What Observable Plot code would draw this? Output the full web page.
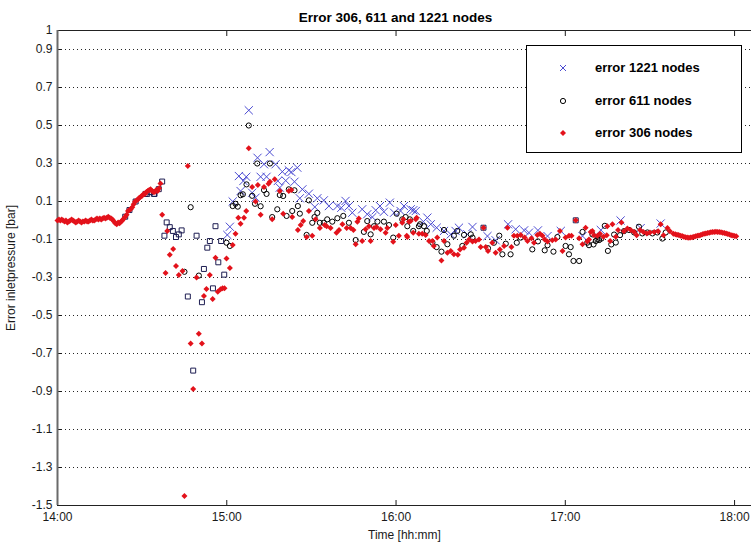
<!DOCTYPE html>
<html><head><meta charset="utf-8">
<script src="https://cdn.jsdelivr.net/npm/d3@7"></script>
<script src="https://cdn.jsdelivr.net/npm/@observablehq/plot@0.6"></script>
<style>
body{margin:0;background:#fff;}
#wrap{position:relative;width:751px;height:543px;font-family:"Liberation Sans",Arial,sans-serif;overflow:hidden;}
#legend{position:absolute;left:526px;top:45px;width:214px;height:106px;border:1px solid #000;background:#fff;}
.row{position:absolute;left:0;height:16px;width:214px;}
.row svg{position:absolute;left:30px;top:2px;}
.row span{position:absolute;left:68px;top:0;font-weight:bold;font-size:13px;line-height:16px;color:#000;white-space:nowrap;}
</style></head><body><div id="wrap"><div id="chart"></div><div id="legend"></div></div>
<script>
// ---- text ----
const title = "Error 306, 611 and 1221 nodes";
const yLabel = "Error inletpressure [bar]";
const xLabel = "Time [hh:mm]";
const legendLabels = ["error 1221 nodes", "error 611 nodes", "error 306 nodes"];
// ---- ticks (minutes after 14:00) ----
const xTicks = [0, 60, 120, 180, 240];
const xTickLabels = ["14:00", "15:00", "16:00", "17:00", "18:00"];
const yTicks = [-1.5, -1.3, -1.1, -0.9, -0.7, -0.5, -0.3, -0.1, 0.1, 0.3, 0.5, 0.7, 0.9, 1];
const gridTicks = [-1.3, -1.1, -0.9, -0.7, -0.5, -0.3, -0.1, 0.1, 0.3, 0.5, 0.7, 0.9];
const xDomain = [0, 246];
const yDomain = [-1.5, 1];

// ---- data: [minutes after 14:00, error bar] ----
// common start, where all runs coincide
const earlyShared = [
[0,0.0],[0.5,0.005],[1,0.0],[1.5,0.005],[2,0.0],[2.5,-0.005],[3,0.0],[3.5,-0.01],[4,-0.005],[4.5,0.0],
[5,0.005],[5.5,0.0],[6,-0.005],[6.5,-0.01],[7,-0.005],[7.5,0.0],[8,-0.005],[8.5,-0.01],[9,-0.005],[9.5,-0.005],
[10,0.0],[10.5,-0.005],[11,-0.005],[11.5,0.0],[12,0.005],[12.5,0.0],[13,0.0],[13.5,0.005],[14,0.01],[14.5,0.005],
[15,0.01],[15.5,0.005],[16,0.01],[16.5,0.015],[17,0.01],[17.5,0.015],[18,0.02],[18.5,0.015],[19,0.01],[19.5,0.005],
[20,-0.005],[20.5,-0.015],[21,-0.02],[21.5,-0.01],[22,-0.015],[22.5,-0.005],[23,0.0],[23.5,0.01],[24,0.02],[24.5,0.03],
[25,0.05],[25.5,0.055],[26,0.06],[26.5,0.07],[27,0.085],[27.5,0.1],[28,0.105],[28.5,0.11],[29,0.12],[29.5,0.125],
[30,0.13],[30.5,0.14],[31,0.14],[31.5,0.15],[32,0.155],[32.5,0.16],[33,0.165],[33.5,0.155],[34,0.15],[34.5,0.15],
[35,0.16],[35.5,0.155],[36,0.17],[36.5,0.195]
];
// common end
const tailShared = [
[219,-0.072],[219.6,-0.075],[220.2,-0.076],[220.8,-0.08],[221.4,-0.082],[222,-0.085],[222.6,-0.088],[223.2,-0.09],
[223.8,-0.091],[224.4,-0.09],[225,-0.088],[225.6,-0.085],[226.2,-0.083],[226.8,-0.08],[227.4,-0.079],[228,-0.076],
[228.6,-0.073],[229.2,-0.07],[229.8,-0.068],[230.4,-0.066],[231,-0.064],[231.6,-0.062],[232.2,-0.06],[232.8,-0.06],
[233.4,-0.059],[234,-0.06],[234.6,-0.061],[235.2,-0.062],[235.8,-0.064],[236.4,-0.066],[237,-0.068],[237.6,-0.071],
[238.2,-0.074],[238.8,-0.077],[239.4,-0.079],[240,-0.081],[240.6,-0.083]
];
const red306 = [
[37.1,0.03],[38.3,-0.276],[38.9,-0.055],[39.8,-0.18],[41,-0.15],[42,-0.24],[43,-0.287],[44.3,-0.266],[45,-1.45],
[46.2,0.287],[47.2,-0.648],[48.1,-0.887],[49.3,-0.30],[50.1,-0.596],[51.2,-0.648],[51.9,-0.397],[52.8,-0.36],[54,-0.287],
[55,-0.413],[56,-0.196],[56.8,-0.375],[57.8,-0.362],[58.5,-0.357],[59.2,-0.357],[59.9,-0.2],[61.1,-0.25],[62.1,-0.129],
[63.1,-0.07],[64.1,0.015],[64.9,-0.017],[66.1,0.015],[66.9,0.05],[67.8,0.38],[69,0.176],[70.2,0.1],[71,0.187],[72,0.03],
[73.2,0.176],[74.8,0.194],[75.3,0.204],[76.1,0.006],[77,0.217],[78.8,0.155],[80,0.036],[82,0.155],[82.9,0.16],[83.2,0.018],
[85.2,-0.05],[86.2,-0.024],[87.1,-0.003],[88.3,-0.087],[89.1,0.05],[90.3,-0.08],[91.5,0.006],[93,-0.04],[94.7,-0.024],
[95.4,-0.03],[96.8,-0.04],[98.9,-0.064],[99.8,-0.05],[101,-0.02],[102.5,-0.04],[103.9,-0.04],[104.9,-0.05],[105.7,-0.125],
[106.3,-0.006],[106.8,0.01],[108,-0.108],[109.2,-0.046],[110.4,-0.03],[111,-0.108],[112.2,-0.04],[113.1,-0.034],[114.5,-0.046],
[116.3,-0.064],[116.9,-0.04],[119,-0.112],[119.9,-0.024],[121,-0.08],[122.2,-0.012],[122.6,0.006],[123.8,-0.08],[124,-0.087],
[124.6,-0.006],[125.2,-0.003],[126.1,-0.064],[127,0.006],[127.3,0.015],[128.1,-0.07],[129.3,-0.07],[130.5,-0.076],[131.7,-0.108],
[132.9,-0.108],[133.4,-0.134],[134.6,-0.09],[136.1,-0.21],[137,-0.108],[138.2,-0.17],[139.4,-0.16],[140.5,-0.178],[141.9,-0.18],
[142.7,-0.152],[144.1,-0.143],[145,-0.117],[145.9,-0.1],[147.1,-0.11],[148.2,-0.108],[149.4,-0.1],[150,-0.14],[151,-0.038],
[151.8,-0.14],[152.6,-0.16],[154.1,-0.117],[155.3,-0.17],[156.8,-0.152],[158.3,-0.134],[159.5,-0.038],[160.9,-0.14],[161.8,-0.08],
[163,-0.08],[164.2,-0.076],[165.6,-0.09],[166.6,-0.108],[168,-0.094],[168.9,-0.117],[170.1,-0.076],[171,-0.07],[171.9,-0.08],
[172.7,-0.1],[173.7,-0.11],[175.4,-0.104],[176.6,-0.1],[178.1,-0.055],[179,-0.16],[180.1,-0.09],[181.3,-0.08],[182.2,-0.08],
[183.7,0.001],[184.9,-0.094],[186.1,-0.125],[187.2,-0.038],[187.8,-0.11],[188.4,-0.1],[189,-0.06],[189.6,-0.055],[190.2,-0.077],
[191.4,-0.08],[192.3,-0.07],[193.5,-0.086],[194.7,-0.077],[194.9,-0.03],[195.9,-0.108],[196.7,-0.02],[197.9,-0.086],[198.7,-0.05],
[199.9,-0.01],[200.8,-0.056],[202,-0.042],[203.2,-0.05],[204.4,-0.06],[205.3,-0.077],[206.5,-0.05],[207.7,-0.06],[208.9,-0.068],
[210,-0.063],[211.5,-0.06],[212.9,-0.056],[213.8,-0.02],[214.8,-0.077],[216.2,-0.04],[217.1,-0.056],[218.3,-0.07]
];
const black611 = [
[45,-0.27],[47.2,0.07],[50.1,-0.29],[59.9,-0.117],[61.1,-0.134],[62.1,0.076],[63.1,0.088],[63.9,0.073],[64.9,0.133],
[65.7,0.138],[67,0.19],[67.8,0.50],[69,0.13],[70,0.088],[70.8,0.30],[72,0.075],[73.2,0.16],[74.1,0.14],[75.3,0.30],
[76.1,0.018],[77.9,0.059],[78.8,0.134],[80,0.129],[81.2,0.024],[82,0.164],[83.2,0.05],[84,0.159],[85.2,0.076],[85.9,0.036],
[88.3,-0.076],[89.1,0.106],[90.3,-0.012],[91.1,0.018],[92.1,0.04],[93,-0.012],[94.4,-0.012],[95.6,0.006],[97.4,-0.006],
[99.2,0.012],[101.3,0.024],[103.3,-0.012],[105.7,-0.103],[108.6,-0.06],[109.8,-0.003],[111,-0.073],[112.2,-0.03],[113.4,-0.006],
[115.7,-0.006],[117.5,-0.024],[119,-0.09],[120.2,0.036],[122.2,0.006],[123.4,0.018],[124,-0.03],[124.9,0.006],[126.1,-0.055],
[128.1,-0.03],[128.5,-0.02],[129.9,-0.03],[130.9,-0.055],[132.9,-0.117],[134.4,-0.14],[136.1,-0.164],[137,-0.05],[138.2,-0.125],
[140.5,-0.08],[141.7,-0.055],[143.5,-0.134],[144.1,-0.076],[146.5,-0.073],[147.1,-0.09],[152.6,-0.146],[154.7,-0.117],
[156.6,-0.08],[157.7,-0.178],[158.9,-0.122],[160.6,-0.178],[162.8,-0.117],[164.2,-0.09],[168.3,-0.152],[170.3,-0.11],
[172.7,-0.157],[173.7,-0.13],[175.8,-0.164],[177.2,-0.087],[180.1,-0.134],[181.3,-0.178],[181.9,-0.14],[182.9,-0.213],
[184.9,-0.213],[186.1,-0.06],[187.8,-0.117],[188.4,-0.13],[189.6,-0.073],[190,-0.126],[190.8,-0.108],[191.4,-0.1],[192,-0.103],
[192.8,-0.095],[194,-0.028],[195.1,-0.16],[196.3,-0.126],[197.3,-0.074],[197.9,-0.116],[199.4,-0.077],[200.8,-0.056],
[202.6,-0.05],[204.4,-0.063],[206.1,-0.033],[207.3,-0.068],[209.1,-0.063],[210.9,-0.068],[212.6,-0.063],[214.4,-0.095],[215.6,-0.063]
];
const blue1221 = [
[60.2,-0.076],[61.1,-0.033],[62.1,0.1],[64.3,0.234],[64.9,0.155],[65.9,0.208],[66.9,0.23],[67.8,0.58],[69,0.146],[70.2,0.12],
[70.9,0.33],[72,0.23],[73.2,0.296],[74.1,0.23],[75.2,0.36],[77.3,0.296],[78.1,0.208],[78.8,0.173],[79.7,0.257],[80.9,0.21],
[82,0.264],[82.9,0.255],[84,0.204],[85,0.278],[85.9,0.117],[86.8,0.164],[89.1,0.141],[91.2,0.071],[92.1,0.117],[94.4,0.106],
[96.2,0.076],[99.2,0.076],[100.6,0.067],[102.1,0.103],[103.3,0.076],[104.5,0.041],[108,0.059],[109.8,0.033],[111.6,0.018],
[112.8,0.054],[114.3,0.076],[115.7,0.046],[117.8,0.094],[119.3,0.041],[121.6,0.05],[122.8,0.076],[125.2,0.059],[126.1,0.054],
[127,0.05],[129.7,-0.006],[131.1,0.015],[132.3,-0.02],[134.4,-0.038],[137,-0.055],[139.4,-0.073],[141.1,-0.055],[142.3,-0.038],
[145.3,-0.073],[147.1,-0.034],[152.4,-0.082],[155.3,-0.104],[159.7,-0.02],[162.4,-0.046],[165.4,-0.052],[167.1,-0.064],
[170.3,-0.052],[173.7,-0.082],[178.4,-0.055],[186.1,-0.082],[192.6,-0.05],[199.6,0.0],[206.7,-0.04],[213.8,-0.016]
];
// dark square markers (unlabelled in the legend)
const squareMarks = [
[24,0.02],[25.5,0.055],[27.7,0.1],[31.2,0.14],[31.8,0.14],[33,0.15],[34.2,0.14],[34.4,0.14],[35.9,0.165],[37.1,0.205],
[37.9,-0.08],[38.7,-0.01],[39.8,-0.035],[40.9,-0.055],[42,-0.087],[43,-0.073],[44,-0.052],[46.2,-0.40],[48.1,-0.79],
[49.3,-0.08],[51.2,-0.43],[51.9,-0.255],[53.1,-0.143],[54,-0.108],[55.1,-0.357],[56,-0.03],[57,-0.22],[58,-0.108],
[59.1,-0.285],[151,-0.038],[183.7,0.001]
];

// ---- colours ----
const cBlue = "#4b4bd2", cBlack = "#000000", cRed = "#e3121b", cSquare = "#1d1d52";

const toRows = arr => arr.map(([t, v]) => ({t, v}));
const redRows = toRows(earlyShared.concat(red306, tailShared));
const blackRows = toRows(black611);
const blueRows = toRows(blue1221);
const squareRows = toRows(squareMarks);

const fmtY = d => String(+(+d).toFixed(1));
const fmtX = d => xTickLabels[xTicks.indexOf(d)];
const font = "Liberation Sans, Arial, Helvetica, sans-serif";

const chart = Plot.plot({
  width: 751, height: 543,
  marginLeft: 57, marginRight: 0, marginTop: 30, marginBottom: 38,
  style: {fontFamily: font, fontSize: "12px", color: "#1a1a1a", background: "#fff", overflow: "visible"},
  x: {domain: xDomain},
  y: {domain: yDomain},
  marks: [
    Plot.gridY(gridTicks, {stroke: "#000", strokeOpacity: 0.85, strokeDasharray: "1,3"}),
    Plot.axisY(yTicks, {anchor: "left", tickSize: 0, tickPadding: 5, tickFormat: fmtY,
      label: yLabel, labelAnchor: "center", labelOffset: 51, labelArrow: "none"}),
    Plot.axisY(yTicks, {anchor: "left", tickSize: 5, dx: 5, tickFormat: () => "", label: null}),
    Plot.axisX(xTicks, {anchor: "bottom", tickSize: 0, tickPadding: 7, tickFormat: fmtX,
      label: xLabel, labelAnchor: "center", labelOffset: 33, labelArrow: "none"}),
    Plot.axisX(xTicks, {anchor: "bottom", tickSize: 5, dy: -5, tickFormat: () => "", label: null}),
    Plot.axisX(xTicks, {anchor: "top", tickSize: 5, dy: 5, tickFormat: () => "", label: null}),
    Plot.ruleY([yDomain[0]], {stroke: "#222"}),
    Plot.ruleY([yDomain[1]], {stroke: "#222"}),
    Plot.ruleX([xDomain[0]], {stroke: "#6a6a6a", strokeWidth: 2}),
    Plot.dot(blueRows, {x: "t", y: "v", symbol: "times", r: 3.8, stroke: cBlue, strokeWidth: 1}),
    Plot.dot(blackRows, {x: "t", y: "v", symbol: "circle", r: 2.6, stroke: cBlack, strokeWidth: 1}),
    Plot.dot(squareRows, {x: "t", y: "v", symbol: "square", r: 2.8, stroke: cSquare, strokeWidth: 1}),
    Plot.dot(redRows, {x: "t", y: "v", symbol: "diamond2", r: 2.7, fill: cRed, stroke: "none"}),
    Plot.text([title], {text: d => d, frameAnchor: "top", dx: -9, dy: -18, fontWeight: "bold", fontSize: 13.5, fill: "#000"})
  ]
});
document.getElementById("chart").append(chart);

// ---- legend ----
const legend = document.getElementById("legend");
const markers = [
  `<svg width="12" height="12"><path d="M3,3L9,9M9,3L3,9" stroke="${cBlue}" stroke-width="1"/></svg>`,
  `<svg width="12" height="12"><circle cx="6" cy="6" r="2.6" fill="none" stroke="${cBlack}" stroke-width="1"/></svg>`,
  `<svg width="12" height="12"><path d="M6,3L9,6L6,9L3,6Z" fill="${cRed}"/></svg>`
];
const rowTops = [14, 47, 79];
legendLabels.forEach((lab, i) => {
  const row = document.createElement("div");
  row.className = "row";
  row.style.top = rowTops[i] + "px";
  row.innerHTML = markers[i] + `<span>${lab}</span>`;
  legend.append(row);
});
</script>
</body></html>
